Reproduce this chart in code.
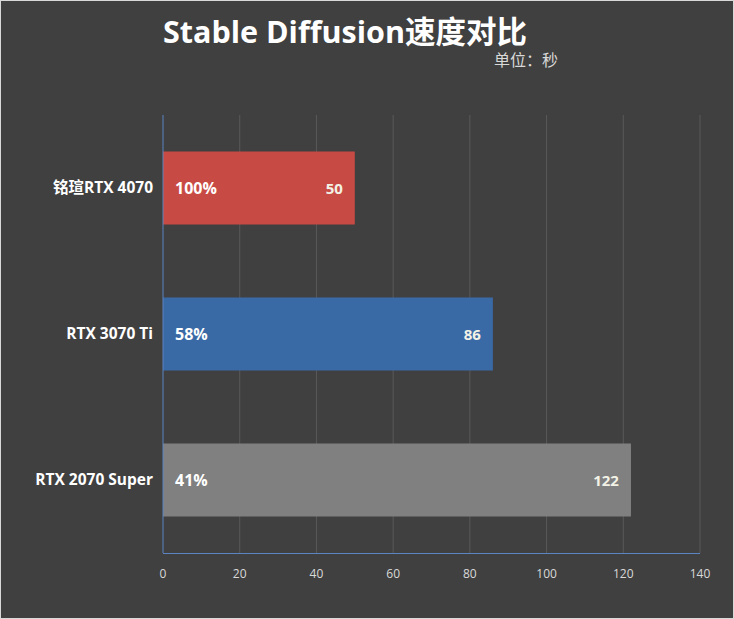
<!DOCTYPE html>
<html>
<head>
<meta charset="utf-8">
<script src="https://cdn.jsdelivr.net/npm/d3@7"></script>
<style>
  html, body { margin: 0; padding: 0; background: #404040; }
  svg { display: block; font-family: "Open Sans", "Noto Sans CJK SC", sans-serif; }
</style>
</head>
<body>
<div id="viz"></div>
<script>
// chart data
const categories = ["铭瑄RTX 4070", "RTX 3070 Ti", "RTX 2070 Super"];
const seconds = [50, 86, 122];
const percents = ["100%", "58%", "41%"];
const barColors = ["#c84a44", "#3a6aa6", "#808080"];
const xTicks = [0, 20, 40, 60, 80, 100, 120, 140];

function createVizualization() {
  const width = 734;
  const height = 619;
  const margin = { left: 163, right: 34, top: 115, bottom: 66 };

  const svg = d3
    .select("#viz")
    .append("svg")
    .attr("width", width)
    .attr("height", height);

  // background with thin light frame
  svg
    .append("rect")
    .attr("x", 0.5)
    .attr("y", 0.5)
    .attr("width", width - 1)
    .attr("height", height - 1)
    .attr("fill", "#404040")
    .attr("stroke", "#d9d9d9")
    .attr("stroke-width", 1);

  const x = d3
    .scaleLinear()
    .domain([0, 140])
    .range([margin.left, width - margin.right]);

  const y = d3
    .scaleBand()
    .domain(categories)
    .range([margin.top, height - margin.bottom])
    .paddingInner(0.5)
    .paddingOuter(0.25);

  // gridlines
  svg
    .selectAll("line.grid")
    .data(xTicks.slice(1))
    .enter()
    .append("line")
    .classed("grid", true)
    .attr("x1", (d) => x(d))
    .attr("x2", (d) => x(d))
    .attr("y1", margin.top)
    .attr("y2", height - margin.bottom)
    .attr("stroke", "#595959")
    .attr("stroke-width", 1);

  // bars
  svg
    .selectAll("rect.bar")
    .data(seconds)
    .enter()
    .append("rect")
    .classed("bar", true)
    .attr("x", x(0))
    .attr("y", (d, i) => y(categories[i]))
    .attr("width", (d) => x(d) - x(0))
    .attr("height", y.bandwidth())
    .attr("fill", (d, i) => barColors[i]);

  // axis lines
  svg
    .append("line")
    .attr("x1", x(0))
    .attr("x2", x(0))
    .attr("y1", margin.top)
    .attr("y2", height - margin.bottom)
    .attr("stroke", "#5b84c0");
  svg
    .append("line")
    .attr("x1", x(0))
    .attr("x2", x(140))
    .attr("y1", height - margin.bottom + 0.5)
    .attr("y2", height - margin.bottom + 0.5)
    .attr("stroke", "#5b84c0");

  // x tick labels
  svg
    .selectAll("text.tick")
    .data(xTicks)
    .enter()
    .append("text")
    .classed("tick", true)
    .text((d) => d)
    .attr("x", (d) => x(d))
    .attr("y", height - margin.bottom + 25)
    .style("fill", "#d9d9d9")
    .style("font-size", "12px")
    .style("text-anchor", "middle");

  // category labels
  svg
    .selectAll("text.cat")
    .data(categories)
    .enter()
    .append("text")
    .classed("cat", true)
    .text((d) => d)
    .attr("x", margin.left - 10)
    .attr("y", (d) => y(d) + y.bandwidth() / 2 + 5)
    .style("fill", "#ffffff")
    .style("font-size", "15.5px")
    .style("font-weight", "bold")
    .style("text-anchor", "end");

  // percent labels
  svg
    .selectAll("text.pct")
    .data(percents)
    .enter()
    .append("text")
    .classed("pct", true)
    .text((d) => d)
    .attr("x", x(0) + 12)
    .attr("y", (d, i) => y(categories[i]) + y.bandwidth() / 2 + 6)
    .style("fill", "#ffffff")
    .style("font-size", "16px")
    .style("font-weight", "bold");

  // value labels
  svg
    .selectAll("text.val")
    .data(seconds)
    .enter()
    .append("text")
    .classed("val", true)
    .text((d) => d)
    .attr("x", (d) => x(d) - 12)
    .attr("y", (d, i) => y(categories[i]) + y.bandwidth() / 2 + 6)
    .style("fill", "#f2f2e6")
    .style("font-size", "15px")
    .style("font-weight", "bold")
    .style("text-anchor", "end");

  // title
  svg
    .append("text")
    .text("Stable Diffusion速度对比")
    .attr("x", 163)
    .attr("y", 43)
    .style("fill", "#ffffff")
    .style("font-size", "30.5px")
    .style("font-weight", "bold");

  svg
    .append("text")
    .text("单位：秒")
    .attr("x", 494)
    .attr("y", 66)
    .style("fill", "#d9d9d9")
    .style("font-size", "16px");
}

createVizualization();
</script>
</body>
</html>
